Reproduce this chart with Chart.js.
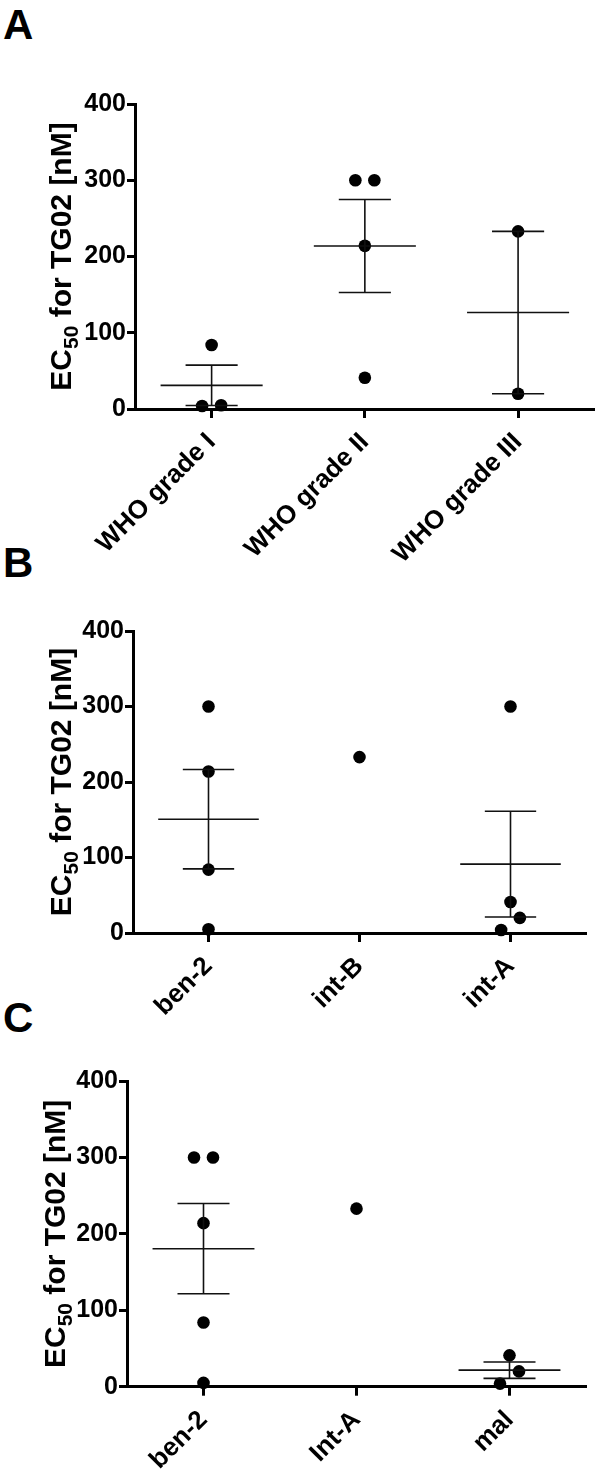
<!DOCTYPE html>
<html>
<head>
<meta charset="utf-8">
<script src="https://cdn.jsdelivr.net/npm/chart.js@4.4.1/dist/chart.umd.min.js"></script>
<style>
  body { margin: 0; background: #fff; }
  #page { position: relative; width: 601px; height: 1472px; font-family: "Liberation Sans", Arial, sans-serif; overflow: hidden; }
  .panel { position: absolute; left: 0; width: 601px; }
  .letter { position: absolute; left: 3px; font-size: 42px; font-weight: bold; line-height: 42px; color: #000; }
</style>
</head>
<body>
<div id="page">
  <div class="letter" style="top:4px">A</div>
  <div class="letter" style="top:542px">B</div>
  <div class="letter" style="top:997px">C</div>
  <div class="panel" style="top:0;height:580px"><canvas id="chartA"></canvas></div>
  <div class="panel" style="top:545px;height:490px"><canvas id="chartB"></canvas></div>
  <div class="panel" style="top:1000px;height:472px"><canvas id="chartC"></canvas></div>
</div>
<script>
// panel A - WHO grade
const gradeLabels = ["WHO grade I", "WHO grade II", "WHO grade III"];
const gradeI = [84, 5, 4];
const gradeII = [300, 300, 214, 41];
const gradeIII = [233, 20];

// panel B - methylation class
const classLabels = ["ben-2", "int-B", "int-A"];
const classBen2 = [300, 214, 84, 5];
const classIntB = [233];
const classIntA = [300, 41, 20, 4];

// panel C - methylation family
const familyLabels = ["ben-2", "Int-A", "mal"];
const familyBen2 = [300, 300, 214, 84, 5];
const familyIntA = [233];
const familyMal = [41, 20, 4];

const yTicks = [0, 100, 200, 300, 400];

const FONT = "'Liberation Sans', Arial, sans-serif";

function mean(a) {
  return a.reduce((s, v) => s + v, 0) / a.length;
}
function sem(a) {
  const m = mean(a);
  const sd = Math.sqrt(a.reduce((s, v) => s + (v - m) * (v - m), 0) / (a.length - 1));
  return sd / Math.sqrt(a.length);
}

// spread points with near-equal values sideways, like a scatter dot plot
function spread(values, i) {
  const sorted = values.slice().sort((a, b) => a - b);
  const rows = [];
  sorted.forEach((v) => {
    const row = rows[rows.length - 1];
    if (row && v - row[0] < 18) row.push(v);
    else rows.push([v]);
  });
  const pts = [];
  rows.forEach((row) => {
    row.forEach((v, j) => {
      pts.push({ x: i + (j - (row.length - 1) / 2) * 0.124, y: v });
    });
  });
  return pts;
}

// y title with subscript
const yTitlePlugin = {
  id: "yTitle",
  afterDraw(chart, args, opts) {
    const ctx = chart.ctx;
    const area = chart.chartArea;
    const parts = [
      { t: "EC", size: 30, dy: 0 },
      { t: "50", size: 21, dy: 7 },
      { t: " for TG02 [nM]", size: 30, dy: 0 },
    ];
    ctx.save();
    let total = 0;
    parts.forEach((p) => {
      ctx.font = "bold " + p.size + "px " + FONT;
      p.w = ctx.measureText(p.t).width;
      total += p.w;
    });
    ctx.translate(opts.x, (area.top + area.bottom) / 2);
    ctx.rotate(-Math.PI / 2);
    ctx.fillStyle = "#000";
    ctx.textBaseline = "alphabetic";
    let x = -total / 2;
    parts.forEach((p) => {
      ctx.font = "bold " + p.size + "px " + FONT;
      ctx.fillText(p.t, x, p.dy);
      x += p.w;
    });
    ctx.restore();
  },
};

function makeChart(id, labels, groups, box) {
  const points = [];
  const meanLines = [];
  const semLines = [];
  groups.forEach((g, i) => {
    spread(g, i).forEach((p) => points.push(p));
    if (g.length > 1) {
      const m = mean(g);
      const s = sem(g);
      meanLines.push({ x: i - 0.333, y: m }, { x: i + 0.333, y: m }, { x: i, y: null });
      semLines.push({ x: i, y: m - s }, { x: i, y: m + s }, { x: i, y: null });
      semLines.push({ x: i - 0.17, y: m + s }, { x: i + 0.17, y: m + s }, { x: i, y: null });
      semLines.push({ x: i - 0.17, y: m - s }, { x: i + 0.17, y: m - s }, { x: i, y: null });
    }
  });

  const lineStyle = {
    type: "line",
    borderColor: "#111",
    borderWidth: 1.6,
    pointRadius: 0,
    spanGaps: false,
    clip: false,
  };

  return new Chart(document.getElementById(id), {
    data: {
      datasets: [
        Object.assign({ data: meanLines }, lineStyle),
        Object.assign({ data: semLines }, lineStyle),
        {
          type: "scatter",
          data: points,
          pointRadius: 6.3,
          pointBackgroundColor: "#000",
          pointBorderColor: "#000",
          pointBorderWidth: 0,
          clip: false,
        },
      ],
    },
    plugins: [yTitlePlugin],
    options: {
      responsive: true,
      maintainAspectRatio: false,
      animation: false,
      events: [],
      layout: {
        padding: { top: box.top, right: box.right, left: 0, bottom: 0 },
      },
      plugins: {
        legend: { display: false },
        tooltip: { enabled: false },
        yTitle: { x: box.titleX },
      },
      scales: {
        x: {
          type: "linear",
          min: -0.5,
          max: 2.5,
          afterBuildTicks: (scale) => {
            scale.ticks = labels.map((l, i) => ({ value: i }));
          },
          afterFit: (scale) => {
            scale.height = box.height - box.bottom;
          },
          border: { display: true, color: "#000", width: 3 },
          grid: {
            drawOnChartArea: false,
            drawTicks: true,
            tickLength: 9,
            tickWidth: 3,
            tickColor: "#000",
          },
          ticks: {
            minRotation: 45,
            maxRotation: 45,
            padding: 9,
            color: "#000",
            font: { family: FONT, size: 26, weight: "bold" },
            callback: (v) => labels[v],
          },
        },
        y: {
          min: 0,
          max: 400,
          afterBuildTicks: (scale) => {
            scale.ticks = yTicks.map((v) => ({ value: v }));
          },
          afterFit: (scale) => {
            scale.width = box.left;
          },
          border: { display: true, color: "#000", width: 3 },
          grid: {
            drawOnChartArea: false,
            drawTicks: true,
            tickLength: 8,
            tickWidth: 3,
            tickColor: "#000",
          },
          ticks: {
            padding: 1,
            color: "#000",
            font: { family: FONT, size: 25, weight: "bold" },
          },
        },
      },
    },
  });
}

makeChart("chartA", gradeLabels, [gradeI, gradeII, gradeIII],
  { top: 104, left: 135, right: 3.5, bottom: 409, height: 580, titleX: 71 });
makeChart("chartB", classLabels, [classBen2, classIntB, classIntA],
  { top: 86, left: 133, right: 15, bottom: 388, height: 490, titleX: 71 });
makeChart("chartC", familyLabels, [familyBen2, familyIntA, familyMal],
  { top: 81, left: 127, right: 15, bottom: 386.7, height: 472, titleX: 65 });
</script>
</body>
</html>
